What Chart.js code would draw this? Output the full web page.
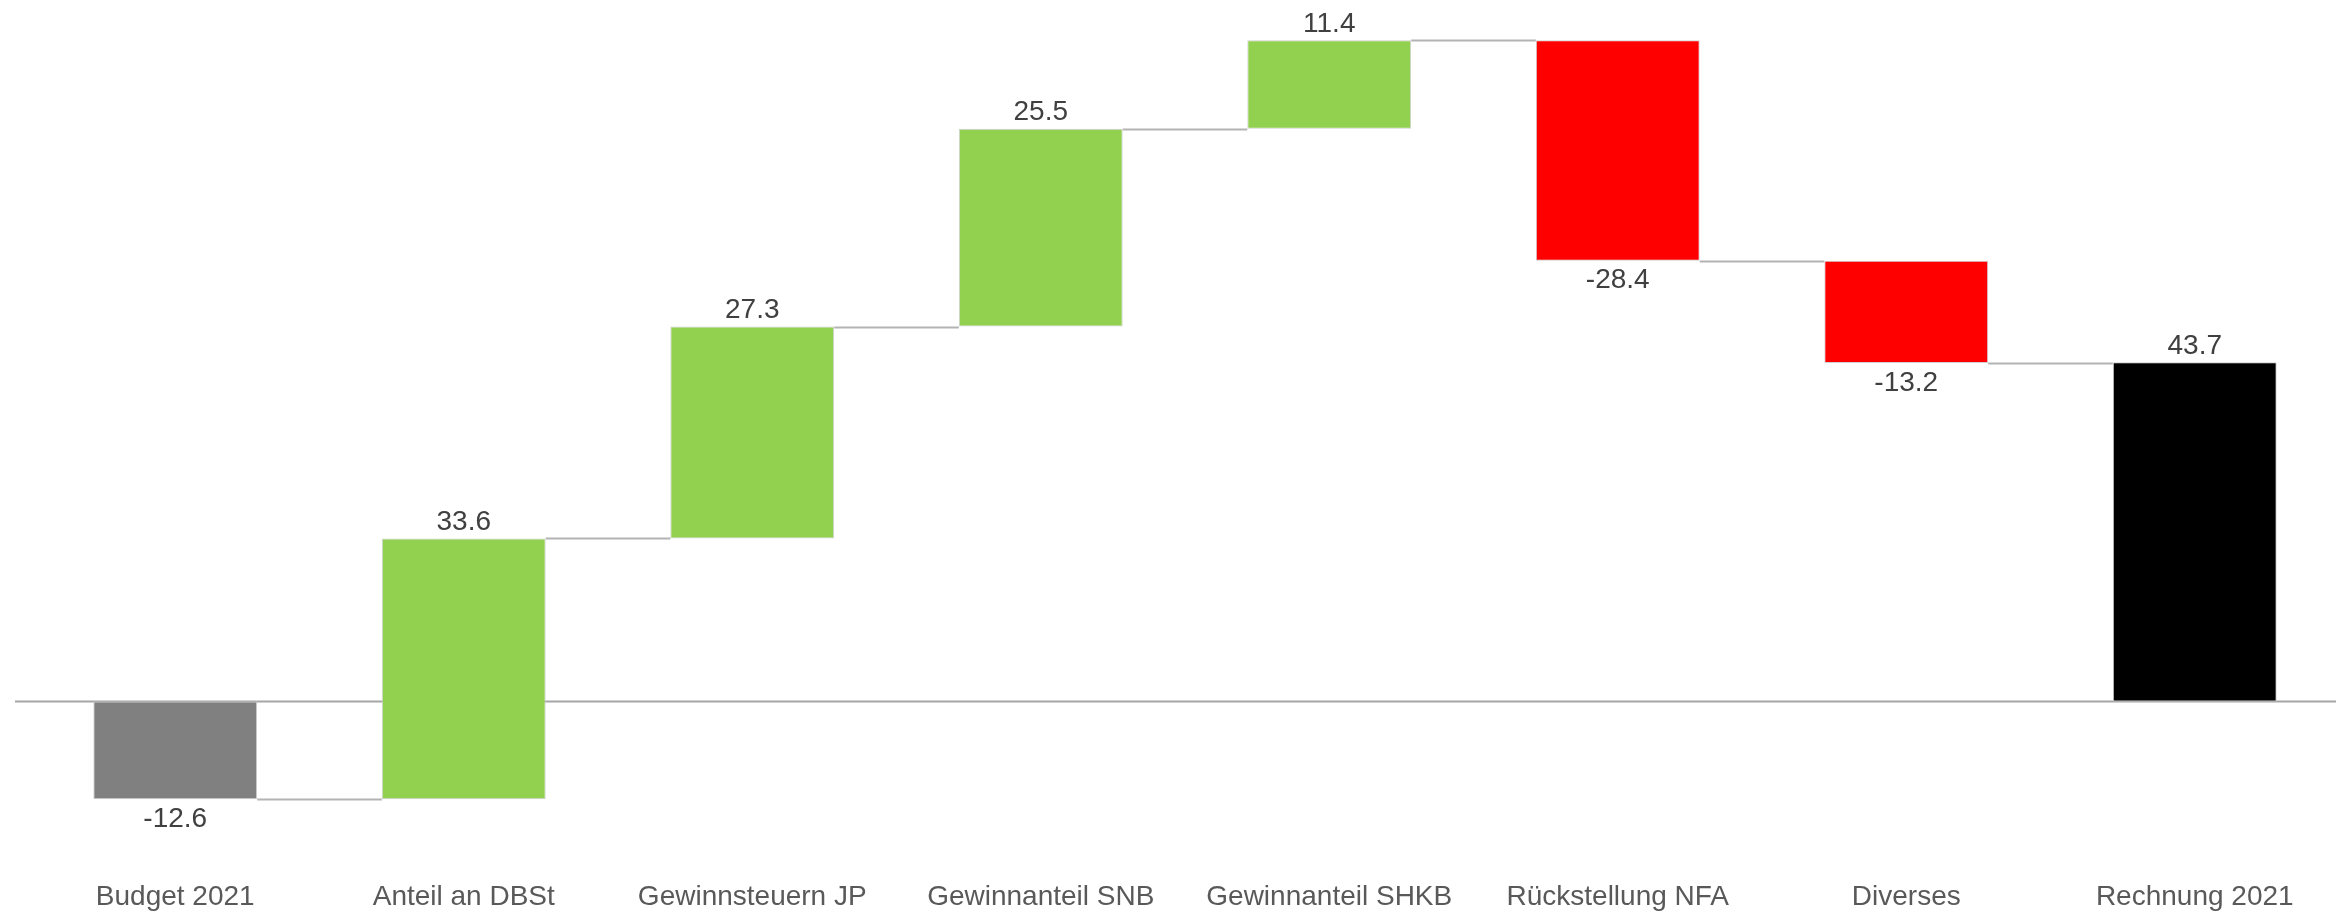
<!DOCTYPE html>
<html>
<head>
<meta charset="utf-8">
<script src="https://cdn.jsdelivr.net/npm/chart.js@4/dist/chart.umd.min.js"></script>
<style>
  html, body { margin: 0; padding: 0; background: #fff; overflow: hidden; }
  #wrap { width: 2340px; height: 913px; }
</style>
</head>
<body>
<div id="wrap"><canvas id="waterfall"></canvas></div>
<script>
// Kategorien
const categories = ['Budget 2021', 'Anteil an DBSt', 'Gewinnsteuern JP', 'Gewinnanteil SNB',
                    'Gewinnanteil SHKB', 'Rückstellung NFA', 'Diverses', 'Rechnung 2021'];
// Veränderungen (erster Wert = Startbudget)
const changes = [-12.6, 33.6, 27.3, 25.5, 11.4, -28.4, -13.2];
// Endresultat
const totalValue = 43.7;
const barColors = ['#808080', '#92d050', '#92d050', '#92d050', '#92d050', '#ff0000', '#ff0000', '#000000'];

// Schwebende Balken [von, bis] aus den Veränderungen
const ranges = [];
const levels = [];
let run = 0;
changes.forEach((v, i) => {
    const start = run;
    run = +(run + v).toFixed(1);
    ranges.push([start, run]);
    levels.push(run);
});
ranges.push([0, totalValue]);
const shownValues = changes.concat([totalValue]);

const FONT = '"Liberation Sans", Arial, sans-serif';

// Nulllinie, Verbindungslinien und Wertbeschriftungen
const waterfallPlugin = {
    id: 'waterfallExtras',
    beforeDatasetsDraw(chart) {
        const ctx = chart.ctx;
        const y = chart.scales.y;
        const zero = Math.round(y.getPixelForValue(0)) + 0.5;
        ctx.save();
        ctx.strokeStyle = '#a6a6a6';
        ctx.lineWidth = 2;
        ctx.beginPath();
        ctx.moveTo(15, zero);
        ctx.lineTo(chart.width, zero);
        ctx.stroke();

        const bars = chart.getDatasetMeta(0).data;
        ctx.strokeStyle = '#b3b3b3';
        ctx.lineWidth = 2;
        for (let i = 0; i < bars.length - 1; i++) {
            const ly = Math.round(y.getPixelForValue(levels[i])) + 0.5;
            ctx.beginPath();
            ctx.moveTo(bars[i].x + bars[i].width / 2, ly);
            ctx.lineTo(bars[i + 1].x - bars[i + 1].width / 2, ly);
            ctx.stroke();
        }
        ctx.restore();
    },
    afterDatasetsDraw(chart) {
        const ctx = chart.ctx;
        const bars = chart.getDatasetMeta(0).data;
        ctx.save();
        ctx.font = '28px ' + FONT;
        ctx.fillStyle = '#404040';
        ctx.textAlign = 'center';
        bars.forEach((bar, i) => {
            const v = shownValues[i];
            const top = Math.min(bar.y, bar.base);
            const bottom = Math.max(bar.y, bar.base);
            if (v >= 0) {
                ctx.textBaseline = 'bottom';
                ctx.fillText(v.toFixed(1), bar.x, top - 2);
            } else {
                ctx.textBaseline = 'top';
                ctx.fillText(v.toFixed(1), bar.x, bottom + 6);
            }
        });
        ctx.restore();
    }
};

const ctxWaterfall = document.getElementById('waterfall').getContext('2d');
new Chart(ctxWaterfall, {
    type: 'bar',
    data: {
        labels: categories,
        datasets: [{
            data: ranges,
            backgroundColor: barColors,
            borderColor: '#d0d0d0',
            borderWidth: 1,
            borderSkipped: false,
            categoryPercentage: 1,
            barPercentage: 0.568
        }]
    },
    options: {
        responsive: true,
        maintainAspectRatio: false,
        animation: false,
        layout: { padding: { left: 31, right: 1, top: 3, bottom: -23 } },
        plugins: {
            legend: { display: false },
            tooltip: { enabled: false }
        },
        scales: {
            x: {
                grid: { display: false },
                border: { display: false },
                ticks: {
                    color: '#595959',
                    font: { family: FONT, size: 28 },
                    padding: 22,
                    maxRotation: 0,
                    autoSkip: false
                }
            },
            y: {
                display: false,
                min: -19.2,
                max: 90
            }
        }
    },
    plugins: [waterfallPlugin]
});
</script>
</body>
</html>
